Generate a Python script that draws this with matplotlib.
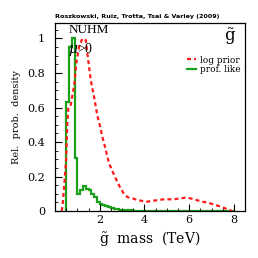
import numpy as np
import matplotlib
matplotlib.use("Agg")
import matplotlib.pyplot as plt
from matplotlib.ticker import MultipleLocator

plt.rcParams['font.family'] = ['DejaVu Serif']
plt.rcParams['mathtext.fontset'] = 'dejavuserif'

# profile likelihood histogram (step)
pl_edges = [0.5, 0.625, 0.75, 0.875, 1.0, 1.125, 1.25, 1.375, 1.5, 1.625, 1.75,
            1.875, 2.0, 2.125, 2.25, 2.375, 2.5, 2.625, 2.75, 2.875, 3.0, 3.5, 4.0, 8.0]
pl_vals = [0.63, 0.95, 1.0, 0.31, 0.10, 0.12, 0.145, 0.125, 0.12, 0.10, 0.08,
           0.055, 0.04, 0.035, 0.03, 0.022, 0.018, 0.012, 0.01, 0.008, 0.005, 0.003, 0.002]

# log prior posterior (dashed)
lp_x = [0.30, 0.34, 0.42, 0.50, 0.55, 0.60, 0.70, 0.86, 0.96, 1.08, 1.23, 1.38, 1.48,
        1.60, 1.75, 1.90, 2.00, 2.12, 2.27, 2.41, 2.64, 2.86, 3.08, 3.25, 3.45, 3.67,
        4.10, 4.40, 4.86, 5.30, 5.82, 6.04, 6.49, 6.93, 7.30, 7.60, 7.82, 7.92]
lp_y = [0.0, 0.03, 0.16, 0.30, 0.50, 0.60, 0.61, 0.73, 0.86, 0.955, 1.0, 0.99, 0.88,
        0.76, 0.66, 0.55, 0.50, 0.43, 0.355, 0.28, 0.21, 0.15, 0.10, 0.08, 0.075, 0.064,
        0.054, 0.06, 0.068, 0.068, 0.077, 0.074, 0.058, 0.045, 0.03, 0.016, 0.005, 0.0]

fig = plt.figure(figsize=(2.58, 2.58), dpi=100)
ax = fig.add_axes([0.213, 0.182, 0.737, 0.729])

ax.plot(lp_x, lp_y, color='#ff1a1a', lw=1.6, ls=(0, (1.8, 1.4)), label='log prior')
ax.stairs(pl_vals, pl_edges, color='#1aa01a', lw=1.6, label='prof. like')

ax.set_xlim(0, 8.5)
ax.set_ylim(0, 1.09)
ax.xaxis.set_major_locator(MultipleLocator(2))
ax.xaxis.set_minor_locator(MultipleLocator(0.5))
ax.yaxis.set_major_locator(MultipleLocator(0.2))
ax.yaxis.set_minor_locator(MultipleLocator(0.05))
ax.set_xticks([2, 4, 6, 8])
ax.set_yticks([0, 0.2, 0.4, 0.6, 0.8, 1.0])
ax.set_yticklabels(['0', '0.2', '0.4', '0.6', '0.8', '1'])
ax.tick_params(which='both', direction='in', labelsize=8, top=False, right=False)
ax.tick_params(axis='y', which='major', pad=7)
ax.tick_params(axis='x', which='major', pad=3)
ax.tick_params(which='major', length=5, width=0.8)
ax.tick_params(which='minor', length=2.5, width=0.6)
for s in ax.spines.values():
    s.set_linewidth(0.9)

ax.set_xlabel(r'$\tilde{\mathrm{g}}$  mass  (TeV)', fontsize=10, labelpad=3)
ax.set_ylabel('Rel.  prob.  density', fontsize=7, labelpad=5)

ax.text(0.07, 0.995, 'NUHM', transform=ax.transAxes, fontsize=9.5, va='top', ha='left',
        family=['Liberation Serif'])
ax.text(0.07, 0.905, r'$\mu$>0', transform=ax.transAxes, fontsize=10, va='top', ha='left',
        family=['Liberation Serif'])
ax.text(0.955, 0.985, r'$\tilde{\mathrm{g}}$', transform=ax.transAxes, fontsize=12,
        va='top', ha='right')
ax.legend(loc='upper right', bbox_to_anchor=(1.01, 0.86), frameon=False, fontsize=6.5,
          handlelength=0.9, handletextpad=0.5, labelspacing=0.05, borderpad=0.2)

fig.text(0.213, 0.925, 'Roszkowski, Ruiz, Trotta, Tsai & Varley (2009)', fontsize=4.6,
         fontweight='bold', family=['DejaVu Sans'], ha='left', va='bottom')

fig.savefig('out.png', dpi=100)
